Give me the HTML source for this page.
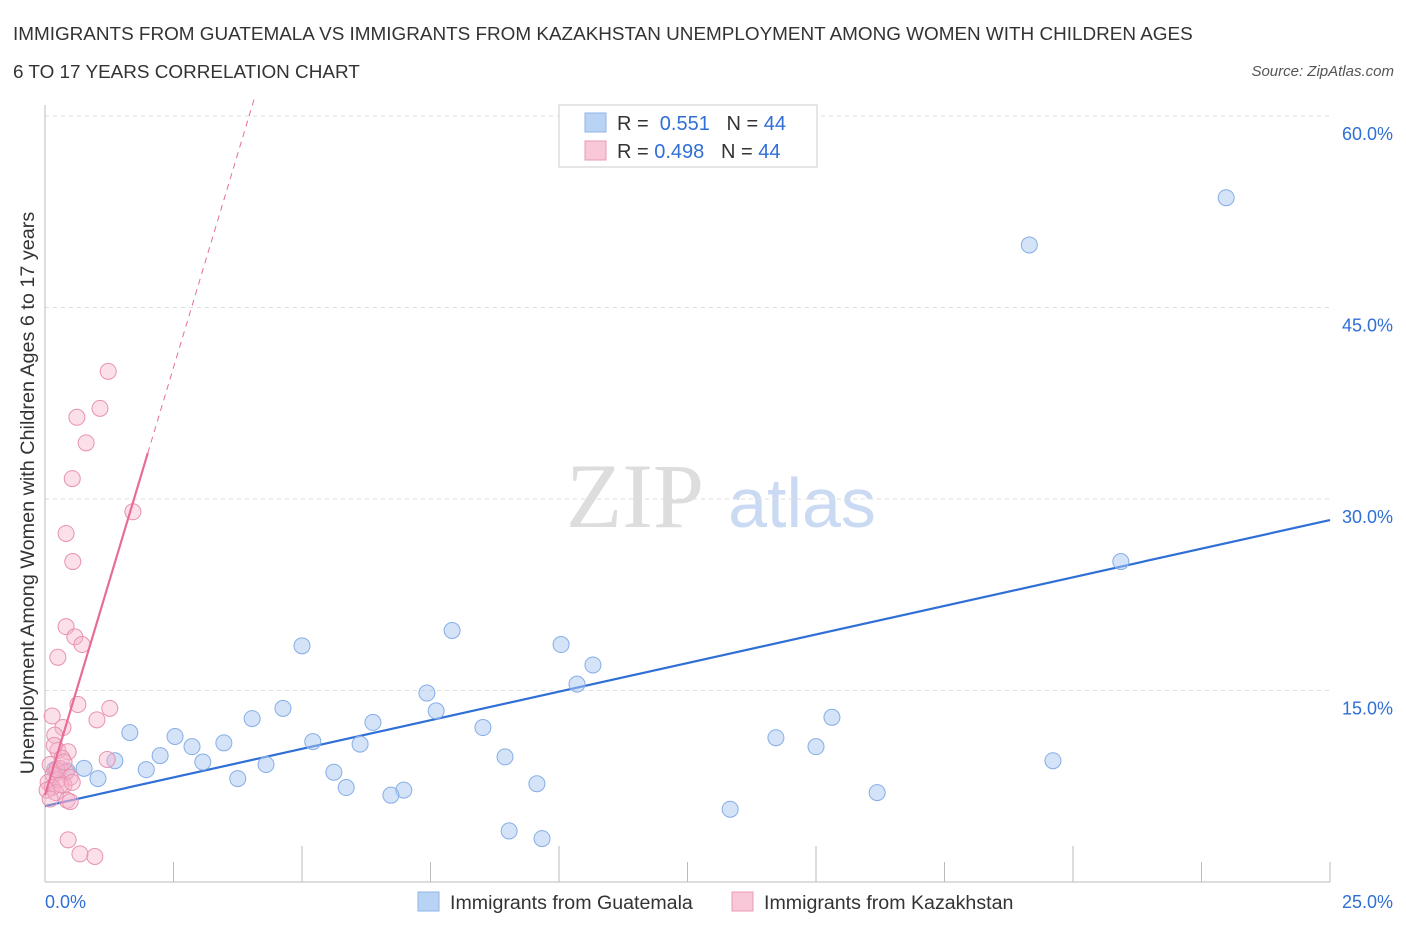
<!DOCTYPE html>
<html><head><meta charset="utf-8"><style>
body{margin:0;background:#fff;font-family:"Liberation Sans",sans-serif}
</style></head><body>
<svg id="c" width="1406" height="930" xmlns="http://www.w3.org/2000/svg">
<text x="13" y="40" font-size="18.9" fill="#333">IMMIGRANTS FROM GUATEMALA VS IMMIGRANTS FROM KAZAKHSTAN UNEMPLOYMENT AMONG WOMEN WITH CHILDREN AGES</text>
<text x="13" y="78" font-size="18.9" fill="#333">6 TO 17 YEARS CORRELATION CHART</text>
<text x="1394" y="76" font-size="15" fill="#555" font-style="italic" text-anchor="end">Source: ZipAtlas.com</text>
<text x="635" y="527" font-size="92" fill="#ddd" font-family="Liberation Serif,serif" text-anchor="middle">ZIP</text>
<text x="802" y="527" font-size="70" fill="#c9daf2" text-anchor="middle">atlas</text>
<text x="34" y="493" font-size="19.8" fill="#333" text-anchor="middle" transform="rotate(-90 34 493)">Unemployment Among Women with Children Ages 6 to 17 years</text>
<g id="grid"></g><g id="marks"></g>
<g>
<rect x="559" y="105" width="258" height="62" fill="#fff" stroke="#ccc"/>
<rect x="585" y="113" width="21" height="19" fill="#b9d3f5" stroke="#8fb4e6"/>
<rect x="585" y="141" width="21" height="19" fill="#f9c8d8" stroke="#e89ab4"/>
<text x="617" y="130" font-size="20" fill="#333">R = <tspan fill="#2f6fd6">&#160;0.551</tspan>&#160;&#160;&#160;N = <tspan fill="#2f6fd6">44</tspan></text>
<text x="617" y="158" font-size="20" fill="#333">R = <tspan fill="#2f6fd6">0.498</tspan>&#160;&#160;&#160;N = <tspan fill="#2f6fd6">44</tspan></text>
</g>
<g>
<rect x="418" y="892" width="21" height="19" fill="#b9d3f5" stroke="#8fb4e6"/>
<text x="450" y="909" font-size="19.6" fill="#333">Immigrants from Guatemala</text>
<rect x="732" y="892" width="21" height="19" fill="#f9c8d8" stroke="#e89ab4"/>
<text x="764" y="909" font-size="19.6" fill="#333">Immigrants from Kazakhstan</text>
</g>
</svg>
<script>
const yTicks=[15,30,45,60];
const yTickLabels=["15.0%","30.0%","45.0%","60.0%"];
const xTickVals=[0,2.5,5,7.5,10,12.5,15,17.5,20,22.5,25];
const xEndLabels=["0.0%","25.0%"];
const guatX=[22.98,19.15,20.93,7.92,10.04,5.0,10.66,10.35,7.43,4.63,7.61,4.03,15.31,6.38,8.52,1.65,2.53,14.22,5.21,3.48,2.86,15.0,6.13,2.24,8.95,3.07,19.61,1.36,4.30,1.97,5.62,0.76,0.43,1.03,3.75,9.57,5.86,6.98,6.73,16.19,13.33,9.03,9.67,0.19];
const guatY=[53.6,49.9,25.1,19.7,18.6,18.5,17.0,15.5,14.8,13.6,13.4,12.8,12.9,12.5,12.1,11.7,11.4,11.3,11.0,10.9,10.6,10.6,10.8,9.9,9.8,9.4,9.5,9.5,9.2,8.8,8.6,8.9,8.7,8.1,8.1,7.7,7.4,7.2,6.8,7.0,5.7,4.0,3.4,8.8];
const kazX=[1.23,1.07,0.62,0.80,0.53,1.71,0.41,0.54,0.41,0.58,0.72,0.25,0.64,1.26,1.01,0.14,0.35,0.19,0.25,0.45,0.33,1.21,0.10,0.29,0.41,0.16,0.49,0.25,0.06,0.37,0.14,0.04,0.21,0.43,0.49,0.10,0.45,0.68,0.97,0.31,0.23,0.37,0.18,0.53];
const kazY=[40.0,37.1,36.4,34.4,31.6,29.0,27.3,25.1,20.0,19.2,18.6,17.6,13.9,13.6,12.7,13.0,12.1,11.5,10.3,10.2,9.7,9.6,9.2,8.9,8.6,8.4,8.2,8.0,7.8,7.6,7.4,7.2,7.0,6.4,6.3,6.5,3.3,2.2,2.0,7.6,8.8,9.4,10.7,7.8];
const guatTrend=[5.95,0.896];
const kazTrend=[6.8,13.4];
const X0=45,X1=1330,Y0=882,YPER=191.5/15;
const sx=v=>X0+(v/25)*(X1-X0), sy=v=>Y0-v*YPER;
const NS="http://www.w3.org/2000/svg";
function mk(tag,at,parent){const e=document.createElementNS(NS,tag);for(const k in at)e.setAttribute(k,at[k]);document.getElementById(parent).appendChild(e);return e;}
yTicks.forEach((t,i)=>{
 const l=mk("line",{x1:X0,x2:X1,y1:sy(t),y2:sy(t),stroke:"#ddd","stroke-dasharray":"4 4"},"grid");
 
 
 const tx=mk("text",{x:1393,y:sy(t)+24,"font-size":18,fill:"#2f6fd6","text-anchor":"end"},"grid");tx.textContent=yTickLabels[i];
 
 
});
const ax=mk("line",{x1:X0,x2:X1,y1:Y0,y2:Y0,stroke:"#bbb"},"grid");


const ay=mk("line",{x1:X0,x2:X0,y1:105,y2:Y0,stroke:"#bbb"},"grid");


xTickVals.forEach(v=>{const t=mk("line",{x1:sx(v),x2:sx(v),y1:Y0,y2:(v%5===0&&v>0&&v<25)?846:862,stroke:"#bbb"},"grid");
 
 });
[[0,"start",45],[25,"end",1393]].forEach((d,i)=>{const t=mk("text",{x:d[2],y:908,"font-size":18,fill:"#2f6fd6","text-anchor":d[1]},"grid");t.textContent=xEndLabels[i];
 
 });
const bl=mk("line",{x1:sx(0),y1:sy(guatTrend[0]),x2:sx(25),y2:sy(guatTrend[0]+guatTrend[1]*25),stroke:"#2f6fd6","stroke-width":2.2},"marks");


const kd=mk("line",{x1:sx(2),y1:sy(kazTrend[0]+kazTrend[1]*2),x2:sx(4.08),y2:sy(kazTrend[0]+kazTrend[1]*4.08),stroke:"#e86d96","stroke-width":1,"stroke-dasharray":"6 5"},"marks");


guatX.forEach((x,i)=>{const c=mk("circle",{cx:sx(x),cy:sy(guatY[i]),r:8,fill:"rgba(170,200,242,0.5)",stroke:"#86aee6","stroke-width":1},"marks");
 
 });
kazX.forEach((x,i)=>{const c=mk("circle",{cx:sx(x),cy:sy(kazY[i]),r:8,fill:"rgba(246,178,202,0.4)",stroke:"#e892b0","stroke-width":1},"marks");
 
 });
const kl=mk("line",{x1:sx(0),y1:sy(kazTrend[0]),x2:sx(2),y2:sy(kazTrend[0]+kazTrend[1]*2),stroke:"#e86d96","stroke-width":2.2},"marks");


</script>
</body></html>
